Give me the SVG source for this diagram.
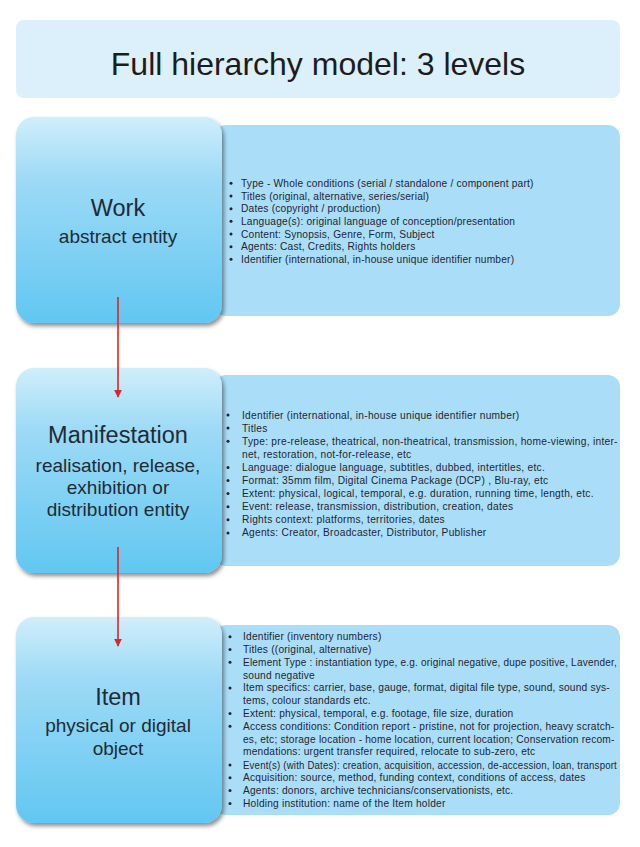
<svg xmlns="http://www.w3.org/2000/svg" width="640" height="847" viewBox="0 0 640 847">
<defs>
<linearGradient id="boxGrad" x1="0" y1="0" x2="0" y2="1">
<stop offset="0" stop-color="#d0eefb"/>
<stop offset="0.3" stop-color="#9ddaf6"/>
<stop offset="1" stop-color="#62c7f1"/>
</linearGradient>
<filter id="shadow" x="-10%" y="-10%" width="125%" height="125%">
<feDropShadow dx="2" dy="3" stdDeviation="2" flood-color="#000" flood-opacity="0.45"/>
</filter>
<marker id="arrow" viewBox="0 0 10 10" refX="9" refY="5" markerWidth="8" markerHeight="8" markerUnits="userSpaceOnUse" orient="auto">
<path d="M0,0 L10,5 L0,10 z" fill="#d8262c"/>
</marker>
<style>
.title{font-family:"Liberation Sans",Arial,sans-serif;font-size:32px;fill:#1c1c1c;text-anchor:middle}
.box{fill:url(#boxGrad);filter:url(#shadow)}
.panel{fill:#aadef8}
.name{font-family:"Liberation Sans",Arial,sans-serif;font-size:23.5px;fill:#1f2b36;text-anchor:middle}
.sub{font-family:"Liberation Sans",Arial,sans-serif;font-size:19px;fill:#1f2b36;text-anchor:middle}
.li{font-family:"Liberation Sans",Arial,sans-serif;font-size:10.2px;letter-spacing:0.2px;fill:#1f2530}
.lm{letter-spacing:0.27px}
.dot{fill:#1f2530}
.conn{stroke:#d8262c;stroke-width:1.6;fill:none}
</style>
</defs>
<rect width="640" height="847" fill="#ffffff"/>
<g id="title">
<rect x="16" y="20" width="604" height="78" rx="8" fill="#dcf0fb"/>
<text class="title" x="318" y="75">Full hierarchy model: 3 levels</text>
</g>
<g id="work-details">
<rect class="panel" x="214" y="125" width="406" height="191" rx="12"/>
<g class="dot">
<circle cx="231" cy="183.3" r="1.5"/><circle cx="231" cy="196" r="1.5"/><circle cx="231" cy="208.7" r="1.5"/><circle cx="231" cy="221.3" r="1.5"/><circle cx="231" cy="234" r="1.5"/><circle cx="231" cy="246.7" r="1.5"/><circle cx="231" cy="259.3" r="1.5"/>
</g>
<text class="li" x="241" y="186.8">Type - Whole conditions (serial / standalone / component part)</text>
<text class="li" x="241" y="199.5">Titles (original, alternative, series/serial)</text>
<text class="li" x="241" y="212.2">Dates (copyright / production)</text>
<text class="li" x="241" y="224.8">Language(s): original language of conception/presentation</text>
<text class="li" x="241" y="237.5">Content: Synopsis, Genre, Form, Subject</text>
<text class="li" x="241" y="250.2">Agents: Cast, Credits, Rights holders</text>
<text class="li" x="241" y="262.8">Identifier (international, in-house unique identifier number)</text>
</g>
<g id="work">
<rect class="box" x="16" y="117" width="206" height="206" rx="18"/>
<text class="name" x="118" y="216">Work</text>
<text class="sub" x="118" y="243">abstract entity</text>
</g>
<g id="manifestation-details">
<rect class="panel" x="214" y="375" width="406" height="191" rx="12"/>
<g class="dot">
<circle cx="228" cy="415" r="1.5"/><circle cx="228" cy="428.1" r="1.5"/><circle cx="228" cy="441.2" r="1.5"/><circle cx="228" cy="467.4" r="1.5"/><circle cx="228" cy="480.5" r="1.5"/><circle cx="228" cy="493.6" r="1.5"/><circle cx="228" cy="506.7" r="1.5"/><circle cx="228" cy="519.8" r="1.5"/><circle cx="228" cy="532.9" r="1.5"/>
</g>
<text class="li lm" x="242" y="418.5">Identifier (international, in-house unique identifier number)</text>
<text class="li lm" x="242" y="431.6">Titles</text>
<text class="li lm" x="242" y="444.7">Type: pre-release, theatrical, non-theatrical, transmission, home-viewing, inter-</text>
<text class="li lm" x="242" y="457.8">net, restoration, not-for-release, etc</text>
<text class="li lm" x="242" y="470.9">Language: dialogue language, subtitles, dubbed, intertitles, etc.</text>
<text class="li lm" x="242" y="484">Format: 35mm film, Digital Cinema Package (DCP) , Blu-ray, etc</text>
<text class="li lm" x="242" y="497.1">Extent: physical, logical, temporal, e.g. duration, running time, length, etc.</text>
<text class="li lm" x="242" y="510.2">Event: release, transmission, distribution, creation, dates</text>
<text class="li lm" x="242" y="523.3">Rights context: platforms, territories, dates</text>
<text class="li lm" x="242" y="536.4">Agents: Creator, Broadcaster, Distributor, Publisher</text>
</g>
<g id="manifestation">
<rect class="box" x="16" y="368" width="206" height="205" rx="18"/>
<text class="name" x="118" y="443">Manifestation</text>
<text class="sub" x="118" y="472">realisation, release,</text>
<text class="sub" x="118" y="494">exhibition or</text>
<text class="sub" x="118" y="516">distribution entity</text>
</g>
<g id="item-details">
<rect class="panel" x="214" y="625" width="406" height="190" rx="12"/>
<g class="dot">
<circle cx="230" cy="636.7" r="1.5"/><circle cx="230" cy="649.5" r="1.5"/><circle cx="230" cy="662.3" r="1.5"/><circle cx="230" cy="687.9" r="1.5"/><circle cx="230" cy="713.5" r="1.5"/><circle cx="230" cy="726.3" r="1.5"/><circle cx="230" cy="765" r="1.5"/><circle cx="230" cy="777.8" r="1.5"/><circle cx="230" cy="790.6" r="1.5"/><circle cx="230" cy="803.4" r="1.5"/>
</g>
<text class="li" x="243" y="640.2">Identifier (inventory numbers)</text>
<text class="li" x="243" y="653">Titles ((original, alternative)</text>
<text class="li" x="243" y="665.8" textLength="374" lengthAdjust="spacingAndGlyphs">Element Type : instantiation type, e.g. original negative, dupe positive, Lavender,</text>
<text class="li" x="243" y="678.6">sound negative</text>
<text class="li" x="243" y="691.4">Item specifics: carrier, base, gauge, format, digital file type, sound, sound sys-</text>
<text class="li" x="243" y="704.2">tems, colour standards etc.</text>
<text class="li" x="243" y="717">Extent: physical, temporal, e.g. footage, file size, duration</text>
<text class="li" x="243" y="729.8">Access conditions: Condition report - pristine, not for projection, heavy scratch-</text>
<text class="li" x="243" y="742.6">es, etc; storage location - home location, current location; Conservation recom-</text>
<text class="li" x="243" y="755.4">mendations: urgent transfer required, relocate to sub-zero, etc</text>
<text class="li" x="243" y="768.5" textLength="374" lengthAdjust="spacingAndGlyphs">Event(s) (with Dates): creation, acquisition, accession, de-accession, loan, transport</text>
<text class="li" x="243" y="781.3">Acquisition: source, method, funding context, conditions of access, dates</text>
<text class="li" x="243" y="794.1">Agents: donors, archive technicians/conservationists, etc.</text>
<text class="li" x="243" y="806.9">Holding institution: name of the Item holder</text>
</g>
<g id="item">
<rect class="box" x="16" y="617" width="206" height="206" rx="18"/>
<text class="name" x="118" y="705">Item</text>
<text class="sub" x="118" y="732">physical or digital</text>
<text class="sub" x="118" y="755">object</text>
</g>
<g id="connectors">
<line class="conn" x1="118" y1="297" x2="118" y2="397" marker-end="url(#arrow)"/>
<line class="conn" x1="118" y1="547" x2="118" y2="646" marker-end="url(#arrow)"/>
</g>
</svg>
